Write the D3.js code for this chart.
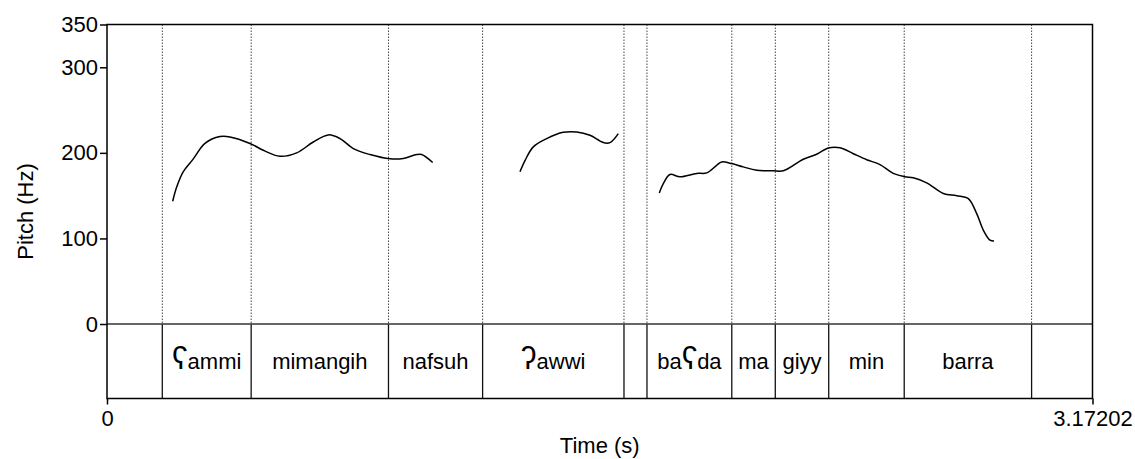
<!DOCTYPE html>
<html>
<head>
<meta charset="utf-8">
<script src="https://cdn.jsdelivr.net/npm/d3@7"></script>
<style>
  body { margin: 0; background: #fff; }
  text { font-family: "Liberation Sans", Arial, Helvetica, sans-serif; fill: #000; }
</style>
</head>
<body>
<script>
const width = 1135, height = 459;
const tMax = 3.17202;

// interval boundaries (s) and labels of the text tier
const boundaries = [0.178, 0.464, 0.906, 1.209, 1.664, 1.738, 2.011, 2.151, 2.323, 2.566, 2.976];
const labels = ["", "ʕammi", "mimangih", "nafsuh", "ʔawwi", "", "baʕda", "ma", "giyy", "min", "barra", ""];

const yTicks = [0, 100, 200, 300, 350];
const xTicks = [0, tMax];

// pitch contour, three voiced stretches: time (s) and pitch (Hz)
const seg1T = [0.2115, 0.2243, 0.2456, 0.2778, 0.3154, 0.3637, 0.3959, 0.4603, 0.5031, 0.5568, 0.6106, 0.6640, 0.7123, 0.7500, 0.7928, 0.8465, 0.9109, 0.9537, 0.9968, 1.0129, 1.0483];
const seg1Hz = [143.5, 160, 178, 193, 211, 219, 218.6, 211, 203, 196, 200, 212.7, 221, 216.7, 205, 198, 193, 193.4, 198, 198, 188.7];
const seg2T = [1.3293, 1.3454, 1.3721, 1.4153, 1.4687, 1.5118, 1.5546, 1.5974, 1.6190, 1.6457];
const seg2Hz = [178, 191, 207, 216.7, 224, 224.4, 220.5, 212, 212, 222.5];
const seg3T = [1.7777, 1.7905, 1.8121, 1.8443, 1.8980, 1.9302, 1.9624, 1.9785, 2.0107, 2.0481, 2.0912, 2.1446, 2.1768, 2.2412, 2.2843, 2.3216, 2.3593, 2.4021, 2.4452, 2.4880, 2.5308, 2.5685, 2.5952, 2.6383, 2.6918, 2.7349, 2.7722, 2.7993, 2.8205, 2.8421, 2.8550];
const seg3Hz = [153, 164, 174.7, 172, 176, 176.6, 185.5, 189.4, 187.5, 183.6, 179.7, 179, 179, 192.5, 198.4, 205.7, 206, 199, 192, 186.3, 176, 172, 171, 165, 152.5, 150, 146.5, 129, 109.7, 98, 97];

const plotLeft = 107, plotRight = 1092.5, plotTop = 24.5, zeroY = 324, plotBottom = 398.5;

const svg = d3.select('body').append('svg')
  .attr('width', width)
  .attr('height', height);

const x = d3.scaleLinear().domain([0, tMax]).range([plotLeft, plotRight]);
const y = d3.scaleLinear().domain([0, 350]).range([zeroY, plotTop]);

// dotted boundary lines through the pitch area
svg.append('g')
  .selectAll('line')
  .data(boundaries)
  .enter().append('line')
    .attr('x1', d => x(d)).attr('x2', d => x(d))
    .attr('y1', plotTop).attr('y2', zeroY)
    .attr('stroke', '#444')
    .attr('stroke-width', 1)
    .attr('stroke-dasharray', '1.5,1.5');

// solid boundary lines in the tier
svg.append('g')
  .selectAll('line')
  .data(boundaries)
  .enter().append('line')
    .attr('x1', d => x(d)).attr('x2', d => x(d))
    .attr('y1', zeroY).attr('y2', plotBottom)
    .attr('stroke', '#111')
    .attr('stroke-width', 1.3);

// tier separator at 0 Hz
svg.append('line')
  .attr('x1', plotLeft).attr('x2', plotRight)
  .attr('y1', zeroY).attr('y2', zeroY)
  .attr('stroke', '#333')
  .attr('stroke-width', 1.5);

// interval labels; the pharyngeal / glottal stop glyphs are drawn taller, like Praat does
const edges = [0].concat(boundaries, [tMax]);
const labelText = svg.append('g')
  .selectAll('text')
  .data(labels)
  .enter().append('text')
    .attr('x', (d, i) => x((edges[i] + edges[i + 1]) / 2))
    .attr('y', (zeroY + plotBottom) / 2 + 8)
    .attr('text-anchor', 'middle')
    .attr('font-size', 22);

labelText.selectAll('tspan')
  .data(d => d.split(/([ʕʔ])/).filter(s => s.length))
  .enter().append('tspan')
    .attr('font-size', s => /[ʕʔ]/.test(s) ? 31 : null)
    .text(s => s);

// pitch contour
const line = d3.line()
  .x(d => x(d[0]))
  .y(d => y(d[1]))
  .curve(d3.curveCatmullRom.alpha(0.5));

const segs = [[seg1T, seg1Hz], [seg2T, seg2Hz], [seg3T, seg3Hz]]
  .map(s => s[0].map((t, i) => [t, s[1][i]]));

svg.append('g')
  .selectAll('path')
  .data(segs)
  .enter().append('path')
    .attr('d', line)
    .attr('fill', 'none')
    .attr('stroke', '#000')
    .attr('stroke-width', 1.5);

// frame
svg.append('rect')
  .attr('x', plotLeft).attr('y', plotTop)
  .attr('width', plotRight - plotLeft).attr('height', plotBottom - plotTop)
  .attr('fill', 'none')
  .attr('stroke', '#000')
  .attr('stroke-width', 1.5);

// y axis
const yAxis = svg.append('g')
  .attr('transform', `translate(${plotLeft},0)`)
  .call(d3.axisLeft(y).tickValues(yTicks).tickSize(7).tickPadding(2).tickSizeOuter(0));
yAxis.select('.domain').remove();
yAxis.selectAll('.tick line').attr('stroke', '#000').attr('stroke-width', 1.5);
yAxis.selectAll('.tick text').attr('font-size', 22).attr('font-family', null).attr('fill', '#000');

// x axis
const xAxis = svg.append('g')
  .attr('transform', `translate(0,${plotBottom})`)
  .call(d3.axisBottom(x).tickValues(xTicks).tickFormat(d => d === 0 ? '0' : String(tMax)).tickSize(6).tickPadding(6).tickSizeOuter(0));
xAxis.select('.domain').remove();
xAxis.selectAll('.tick line').attr('stroke', '#000').attr('stroke-width', 1.5);
xAxis.selectAll('.tick text').attr('font-size', 22).attr('font-family', null).attr('fill', '#000');

// axis titles
svg.append('text')
  .attr('x', (plotLeft + plotRight) / 2)
  .attr('y', 453)
  .attr('text-anchor', 'middle')
  .attr('font-size', 22)
  .text('Time (s)');

svg.append('text')
  .attr('transform', `translate(33,${(plotTop + plotBottom) / 2}) rotate(-90)`)
  .attr('text-anchor', 'middle')
  .attr('font-size', 22)
  .text('Pitch (Hz)');
</script>
</body>
</html>
